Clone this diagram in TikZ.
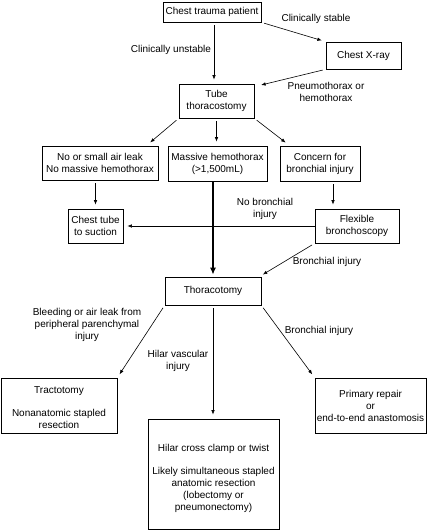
\documentclass[tikz,border=0pt]{standalone}
\usepackage{fontspec}
\setmainfont{Liberation Sans}
\usetikzlibrary{arrows.meta}
\tikzset{
  box/.style={draw, line width=0.7pt, inner sep=0pt, align=center, font=\fontsize{10}{12}\selectfont},
  lbl/.style={inner sep=0pt, align=center, font=\fontsize{10}{12}\selectfont},
  arr/.style={line width=0.6pt, -{Latex[length=4.5pt,width=3.5pt]}, shorten <=3pt, shorten >=4pt},
  thickarr/.style={line width=2pt, -{Latex[length=7pt,width=6pt]}, shorten >=2pt}
}
\begin{document}
\begin{tikzpicture}[x=1pt,y=-1pt]
\useasboundingbox (0,0) rectangle (427,530);
% boxes
\node[box, minimum width=98pt, minimum height=20pt] (trauma) at (212,12) {Chest trauma patient};
\node[box, minimum width=75pt, minimum height=27pt] (xray) at (363.5,55.5) {Chest X-ray};
\node[box, minimum width=75pt, minimum height=34pt] (tube) at (216.5,101) {Tube\\thoracostomy};
\node[box, minimum width=116pt, minimum height=34pt] (nosmall) at (100,163) {No or small air leak\\No massive hemothorax};
\node[box, minimum width=99pt, minimum height=35pt] (massive) at (217.5,163.5) {Massive hemothorax\\(>1,500mL)};
\node[box, minimum width=80pt, minimum height=35pt] (concern) at (320,163.5) {Concern for\\bronchial injury};
\node[box, minimum width=55pt, minimum height=34pt] (chest) at (95.5,226) {Chest tube\\to suction};
\node[box, minimum width=84pt, minimum height=34pt] (flex) at (357,226) {Flexible\\bronchoscopy};
\node[box, minimum width=96pt, minimum height=28pt] (thor) at (213,291) {Thoracotomy};
\node[box, minimum width=116pt, minimum height=55pt] (tract) at (59,405.5) {\rule{0pt}{11pt}Tractotomy\\[11pt]Nonanatomic stapled\\resection};
\node[box, minimum width=131pt, minimum height=110pt] (hilar) at (213.5,474) {\rule{0pt}{16pt}Hilar cross clamp or twist\\[11pt]Likely simultaneous stapled\\anatomic resection\\(lobectomy or\\pneumonectomy)};
\node[box, minimum width=111pt, minimum height=55pt] (primary) at (370.5,405.5) {Primary repair\\or\\end-to-end anastomosis};
% labels
\node[lbl] (l1) at (171,50) {Clinically unstable};
\node[lbl] (l2) at (316,19) {Clinically stable};
\node[lbl] (l3) at (326,92) {Pneumothorax or\\hemothorax};
\node[lbl] (l4) at (265,209) {No bronchial\\injury};
\node[lbl] (l5) at (327,262) {Bronchial injury};
\node[lbl] (l6) at (87,325) {Bleeding or air leak from\\peripheral parenchymal\\injury};
\node[lbl] (l7) at (178,361) {Hilar vascular\\injury};
\node[lbl] (l8) at (319,331) {Bronchial injury};
% connectors
\draw[arr] ([xshift=2pt]trauma.south) -- ([xshift=-2.5pt]tube.north);
\draw[arr] (trauma.south east) -- (xray.north west);
\draw[arr, shorten >=7pt] (xray.south west) -- ([yshift=-3pt]tube.north east);
\draw[arr, shorten >=5pt] (tube.south west) -- ([xshift=-12pt]nosmall.north east);
\draw[arr] (tube.south) -- (tube.south |- massive.north);
\draw[arr, shorten >=5pt] (tube.south east) -- ([xshift=10pt]concern.north west);
\draw[arr] (chest.north |- nosmall.south) -- (chest.north);
\draw[thickarr] (thor.north |- massive.south) -- (thor.north);
\draw[arr] ([xshift=13pt]concern.south) -- ([xshift=13pt]concern.south |- flex.north);
\draw[arr, shorten <=0pt] (flex.west) -- (chest.east);
\draw[arr] (flex.south west) -- ([xshift=-2pt]thor.north east);
\draw[arr] (thor.south west) -- (tract.north east);
\draw[arr] (thor.south) -- (thor.south |- hilar.north);
\draw[arr] (thor.south east) -- (primary.north west);
\end{tikzpicture}
\end{document}
